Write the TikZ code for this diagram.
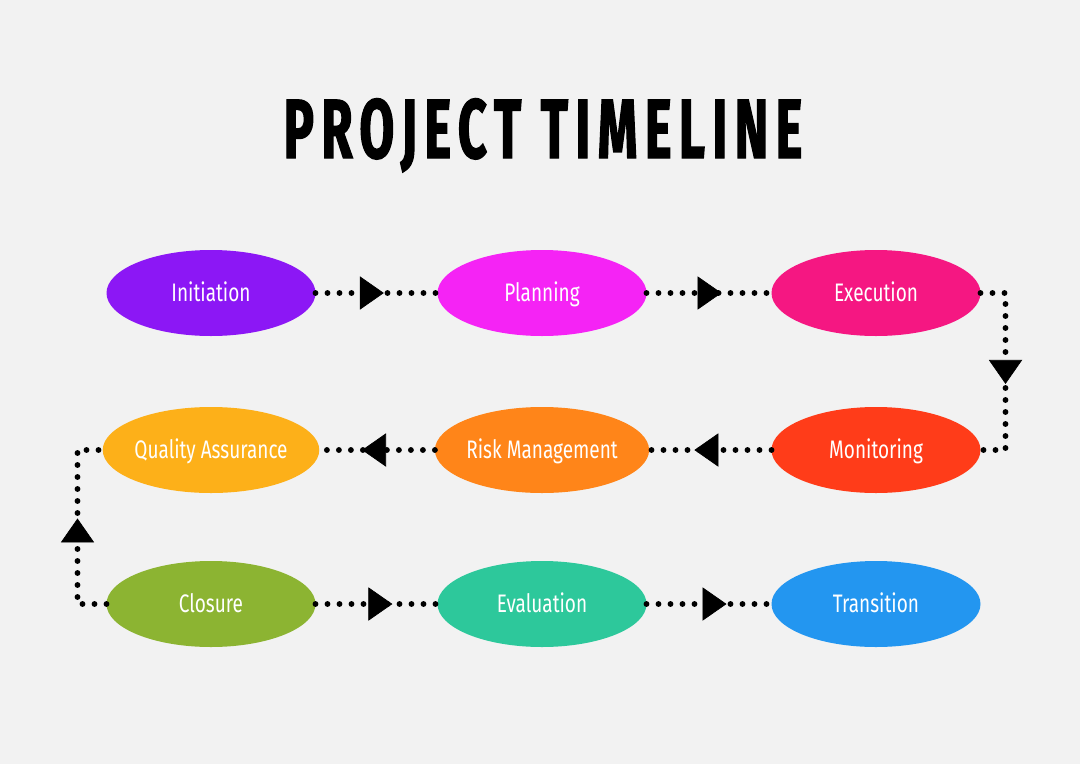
\documentclass[tikz,border=0pt]{standalone}
\usepackage{fontspec}
\setmainfont[FakeStretch=0.75]{Fira Sans}
\newfontfamily\titlefont[FakeStretch=0.6,LetterSpace=9,FakeBold=1.5]{Fira Sans}
\usetikzlibrary{shapes.geometric,arrows.meta,decorations.markings}

\definecolor{pagebg}{RGB}{242,242,242}
\definecolor{initc}{RGB}{140,23,245}
\definecolor{planc}{RGB}{245,35,245}
\definecolor{execc}{RGB}{245,23,130}
\definecolor{monic}{RGB}{255,60,25}
\definecolor{riskc}{RGB}{255,133,25}
\definecolor{qac}{RGB}{253,176,25}
\definecolor{closc}{RGB}{140,180,50}
\definecolor{evalc}{RGB}{45,200,155}
\definecolor{tranc}{RGB}{35,150,240}

\begin{document}
\begin{tikzpicture}[x=0.75pt,y=-0.75pt,
	phase/.style={ellipse, fill=#1, minimum width=156.75pt, minimum height=64.5pt,
		inner sep=0pt, outer sep=0pt, text=white, text height=13pt, text depth=0pt,
		font=\fontsize{19}{22}\selectfont},
	link/.style={line width=4.4pt, line cap=round, dash pattern=on 0pt off 9pt,
		postaction={decorate}, decoration={markings, mark=at position #1 with
		{\arrow[line width=0.5pt]{Triangle[length=18pt,width=25pt]}}}},
	link/.default=0.6]

	\fill[pagebg] (0,0) rectangle (1080,764);
	\useasboundingbox (0,0) rectangle (1080,764);

	% title
	\node[anchor=base, font=\titlefont\bfseries\fontsize{63}{70}\selectfont] (title) at (543,158) {PROJECT TIMELINE};

	% row 1
	\node[phase=initc] (init) at (211,293) {Initiation};
	\node[phase=planc] (plan) at (542,293) {Planning};
	\node[phase=execc] (exec) at (876,293) {Execution};
	% row 2
	\node[phase=qac] (qa) at (211,450) {Quality Assurance};
	\node[phase=riskc] (risk) at (542,450) {Risk Management};
	\node[phase=monic] (moni) at (876,450) {Monitoring};
	% row 3
	\node[phase=closc] (clos) at (211,604) {Closure};
	\node[phase=evalc] (eval) at (542,604) {Evaluation};
	\node[phase=tranc] (tran) at (876,604) {Transition};

	% -
	\draw[link=0.56] (init) -- (plan);
	\draw[link] (plan) -- (exec);
	\draw[link=0.63] (moni) -- (risk);
	\draw[link=0.63] (risk) -- (qa);
	\draw[link=0.63] (clos) -- (eval);
	\draw[link=0.64] (eval) -- (tran);
	% |
	\draw[link=0.56] (exec.east) -- ++(25,0) |- (moni.east);
	\draw[link=0.55] (clos.west) -- ++(-29,0) |- (qa.west);
\end{tikzpicture}
\end{document}
